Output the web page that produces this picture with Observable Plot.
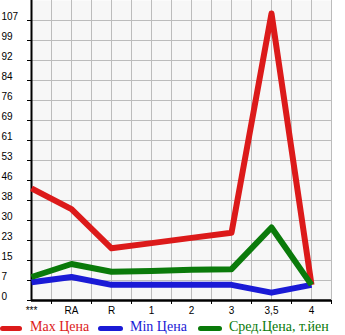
<!DOCTYPE html>
<html>
<head>
<meta charset="utf-8">
<script src="https://cdn.jsdelivr.net/npm/d3@7"></script>
<script src="https://cdn.jsdelivr.net/npm/@observablehq/plot@0.6"></script>
<style>
  html, body { margin: 0; padding: 0; background: #fff; }
  #wrap { position: relative; width: 345px; height: 335px; }
  #legend { position: absolute; left: 0; top: 320px; width: 345px; height: 15px; font-family: "Liberation Serif", serif; font-size: 14px; }
  .sw { position: absolute; top: 6px; height: 5px; border-radius: 3px; }
  .lt { position: absolute; top: -1px; line-height: 16px; white-space: nowrap; }
</style>
</head>
<body>
<div id="wrap">
  <div id="chart"></div>
  <div id="legend"></div>
</div>
<script>
const categories = ["***", "RA", "R", "1", "2", "3", "3,5", "4"];
const maxPrice = [43, 35, 20, 22, 24, 26, 110, 6];
const minPrice = [7, 9, 6, 6, 6, 6, 3, 6];
const avgPrice = [9, 14, 11, 11.3, 11.8, 12, 28, 6];
const yTickLabels = ["0", "7", "15", "23", "30", "38", "46", "53", "61", "69", "76", "84", "92", "99", "107"];
const seriesNames = ["Max Цена", "Min Цена", "Сред.Цена, т.йен"];
const colors = ["#dc1a1a", "#1a1ad6", "#0a7a0a"];

const yMax = 115;
const yTicks = yTickLabels.map((_, i) => i * yMax / 15);
const labelOf = new Map(yTicks.map((v, i) => [v, yTickLabels[i]]));

const rows = [];
[maxPrice, minPrice, avgPrice].forEach((arr, s) => {
  arr.forEach((v, i) => rows.push({series: seriesNames[s], i, v}));
});

const chart = Plot.plot({
  width: 345,
  height: 320,
  marginLeft: 31,
  marginRight: 14,
  marginTop: 0,
  marginBottom: 20,
  style: {fontFamily: "'Liberation Sans', Arial, sans-serif", fontSize: "10px", background: "transparent"},
  x: {domain: [0, 7.5]},
  y: {domain: [0, yMax]},
  marks: [
    Plot.frame({fill: "#f7f7f7", stroke: null}),
    Plot.ruleX(d3.range(0.5, 7.51, 0.5), {stroke: "#bcbcbc", strokeWidth: 1}),
    Plot.ruleY(yTicks, {stroke: "#bcbcbc", strokeWidth: 1}),
    Plot.axisY(yTicks, {tickSize: 4, tickFormat: () => "", stroke: "#000", label: null}),
    Plot.axisY(yTicks, {tickSize: 0, tickPadding: 0, textAnchor: "start", dx: -30, dy: -4, tickFormat: d => labelOf.get(d), fill: "#000", label: null}),
    Plot.axisX(d3.range(0, 8), {tickSize: 0, tickPadding: 6, tickFormat: i => categories[i], fill: "#000", label: null}),
    Plot.axisX(d3.range(0.5, 7.6, 1), {tickSize: 4, tickFormat: () => "", stroke: "#000", label: null}),
    Plot.ruleX([0], {stroke: "#000", strokeWidth: 2}),
    Plot.ruleY([0], {stroke: "#000", strokeWidth: 2.5}),
    Plot.line(rows, {x: "i", y: "v", z: "series", stroke: "series", strokeWidth: 6, strokeLinejoin: "round", strokeLinecap: "butt"})
  ],
  color: {domain: seriesNames, range: colors}
});
document.getElementById("chart").appendChild(chart);

const legend = document.getElementById("legend");
const pos = [[0, 22, 30], [98, 25, 130], [198, 24, 229]];
seriesNames.forEach((name, k) => {
  const sw = document.createElement("div");
  sw.className = "sw";
  sw.style.left = pos[k][0] + "px";
  sw.style.width = pos[k][1] + "px";
  sw.style.background = colors[k];
  legend.appendChild(sw);
  const t = document.createElement("div");
  t.className = "lt";
  t.style.left = pos[k][2] + "px";
  t.style.color = colors[k];
  t.textContent = name;
  legend.appendChild(t);
});
</script>
</body>
</html>
